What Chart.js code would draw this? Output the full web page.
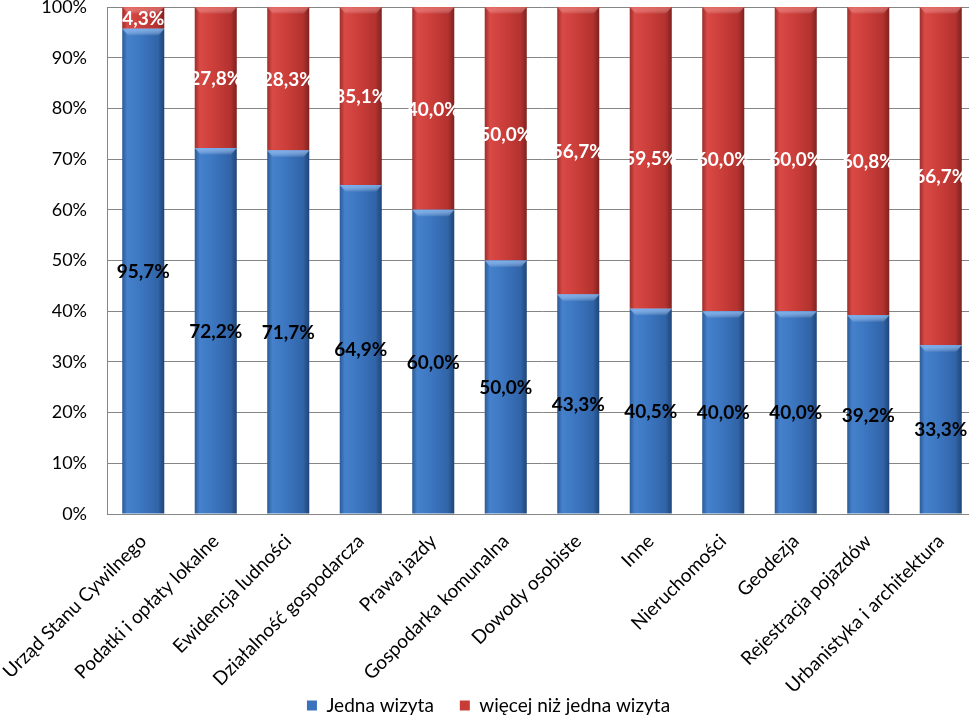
<!DOCTYPE html>
<html><head><meta charset="utf-8">
<script src="https://cdn.jsdelivr.net/npm/chart.js@4"></script>
<style>
html,body{margin:0;padding:0;overflow:hidden;background:#fff;width:969px;height:719px}
#wrap{position:absolute;left:0;top:0;width:985px;height:719px}
</style></head><body>
<div id="wrap"><canvas id="c"></canvas></div>
<script>
const categories = ["Urząd Stanu Cywilnego","Podatki i opłaty lokalne","Ewidencja ludności","Działalność gospodarcza","Prawa jazdy","Gospodarka komunalna","Dowody osobiste","Inne","Nieruchomości","Geodezja","Rejestracja pojazdów","Urbanistyka i architektura"];
const jednaWizyta = [95.7,72.2,71.7,64.9,60.0,50.0,43.3,40.5,40.0,40.0,39.2,33.3];
const wiecejWizyt = [4.3,27.8,28.3,35.1,40.0,50.0,56.7,59.5,60.0,60.0,60.8,66.7];
const seriesNames = ["Jedna wizyta","więcej niż jedna wizyta"];
const yTicks = [0,10,20,30,40,50,60,70,80,90,100];

const BAR_FRAC = 0.58;
const blueStops = [[0,'#2c5a96'],[0.12,'#4581cc'],[0.45,'#3c76c0'],[0.85,'#3164a8'],[1,'#1f4577']];
const redStops  = [[0,'#9c2d2b'],[0.12,'#d94a46'],[0.45,'#cc3e3a'],[0.85,'#b3322f'],[1,'#7e2220']];

function grad(stops){
  return function(ctx){
    const chart = ctx.chart;
    if(!chart.chartArea) return stops[2][1];
    const xs = chart.scales.x;
    const cx = xs.getPixelForValue(ctx.dataIndex);
    const hw = xs.width/categories.length*BAR_FRAC/2;
    const g = chart.ctx.createLinearGradient(cx-hw,0,cx+hw,0);
    stops.forEach(s=>g.addColorStop(s[0],s[1]));
    return g;
  };
}

const labelPlugin = {
  id:'valLabels',
  afterDatasetsDraw(chart){
    const ctx = chart.ctx;
    ctx.save();
    chart.data.datasets.forEach((ds,di)=>{
      const meta = chart.getDatasetMeta(di);
      meta.data.forEach(el=>{
        const {x,y,base,width} = el.getProps(['x','y','base','width'],true);
        const top = Math.min(y,base);
        const g = ctx.createLinearGradient(0,top,0,top+7);
        g.addColorStop(0, di===0 ? 'rgba(130,185,250,0.8)' : 'rgba(235,110,105,0.7)');
        g.addColorStop(1, 'rgba(255,255,255,0)');
        ctx.fillStyle = g;
        ctx.beginPath();
        ctx.moveTo(x-width/2, top);
        ctx.lineTo(x+width/2, top);
        ctx.lineTo(x+width/2-6, top+7);
        ctx.lineTo(x-width/2+6, top+7);
        ctx.closePath();
        ctx.fill();
      });
    });
    ctx.font = 'bold 19px Lato';
    ctx.textAlign = 'center';
    ctx.textBaseline = 'middle';
    chart.data.datasets.forEach((ds,di)=>{
      const meta = chart.getDatasetMeta(di);
      meta.data.forEach((el,i)=>{
        const {x,y,base} = el.getProps(['x','y','base'],true);
        const v = ds.data[i];
        const txt = v.toFixed(1).replace('.',',')+'%';
        ctx.fillStyle = di===0 ? '#000000' : '#ffffff';
        ctx.fillText(txt, x, (y+base)/2 + 1);
      });
    });
    ctx.restore();
  }
};

new Chart(document.getElementById('c'),{
  type:'bar',
  data:{
    labels:categories,
    datasets:[
      {label:seriesNames[0],data:jednaWizyta,backgroundColor:grad(blueStops),borderWidth:0,categoryPercentage:1,barPercentage:BAR_FRAC},
      {label:seriesNames[1],data:wiecejWizyt,backgroundColor:grad(redStops),borderWidth:0,categoryPercentage:1,barPercentage:BAR_FRAC}
    ]
  },
  options:{
    responsive:true,maintainAspectRatio:false,animation:false,
    layout:{padding:{left:0,right:8,top:0,bottom:-6}},
    plugins:{
      tooltip:{enabled:false},
      legend:{position:'bottom',
        labels:{boxWidth:10,boxHeight:10,padding:26,color:'#000',font:{family:'Lato',size:19},
          generateLabels(chart){
            const cols=['#3a72bd','#c83c38'];
            return chart.data.datasets.map((d,i)=>({text:d.label,fillStyle:cols[i],strokeStyle:cols[i],lineWidth:0,datasetIndex:i}));
          }}
      }
    },
    scales:{
      x:{stacked:true,
        grid:{display:false},
        border:{display:true,color:'#868686',width:1},
        ticks:{minRotation:45,maxRotation:45,autoSkip:false,color:'#000',font:{family:'Lato',size:19},padding:8},
        afterFit(s){ s.height = 156; s.paddingLeft = 0; s.paddingRight = 0; s._computeLabelArea = function(){ return undefined; }; }
      },
      y:{stacked:true,min:0,max:100,
        afterBuildTicks(s){ s.ticks = yTicks.map(v=>({value:v})); },
        grid:{color:'#868686',drawTicks:false,tickLength:0},
        border:{display:true,color:'#868686',width:1},
        ticks:{color:'#000',font:{family:'Lato',size:18},padding:20,callback:v=>v+'%'},
        afterFit(s){ s.width = 107; s.paddingTop = 7; s.paddingBottom = 0; }
      }
    }
  },
  plugins:[labelPlugin]
});
</script>
</body></html>
